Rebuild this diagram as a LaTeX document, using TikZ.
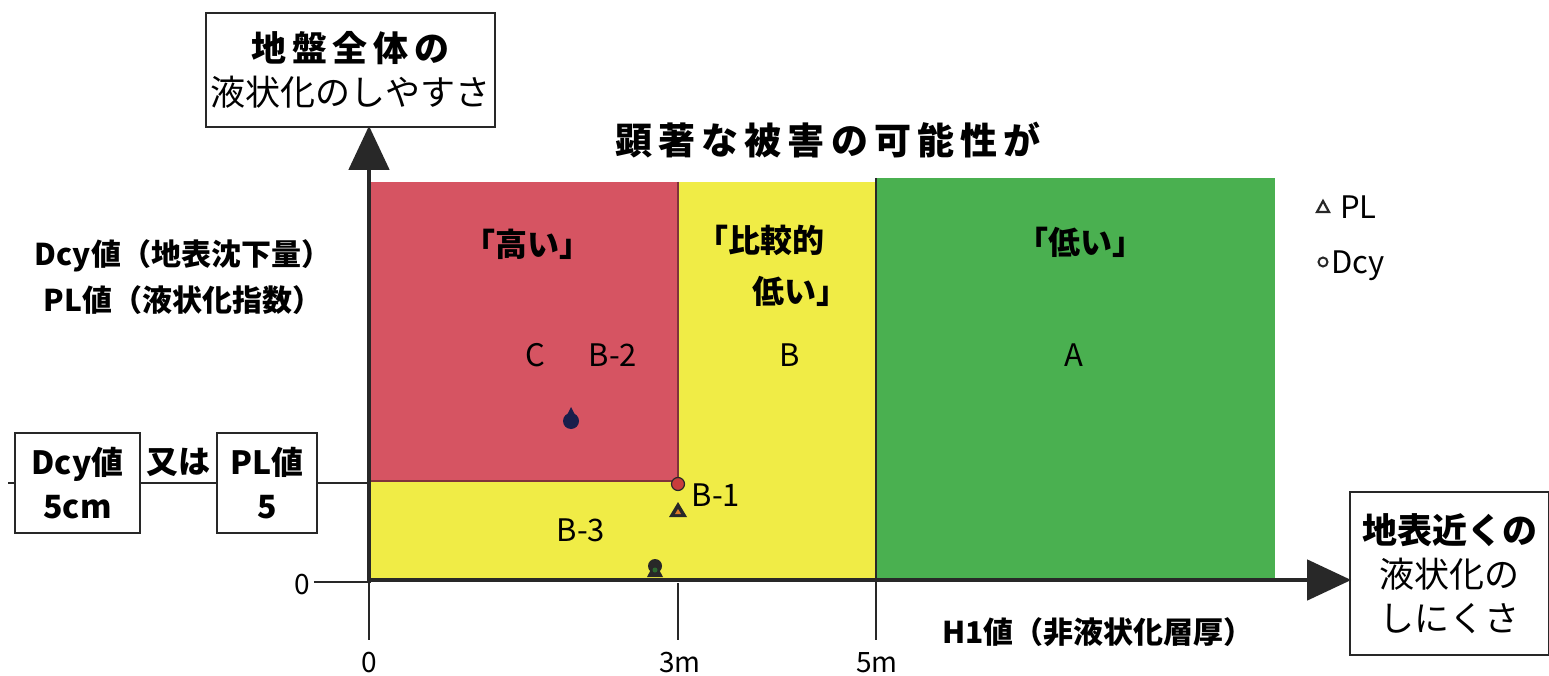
\documentclass[tikz,border=0pt]{standalone}
\usepackage{fontspec}
\setmainfont{Noto Sans CJK JP}
\usetikzlibrary{arrows.meta}
\definecolor{zred}{RGB}{214,84,98}
\definecolor{zyellow}{RGB}{240,236,70}
\definecolor{zgreen}{RGB}{74,176,80}
\definecolor{zline}{RGB}{40,40,40}
\definecolor{znavy}{RGB}{25,30,75}
\definecolor{zdot}{RGB}{200,60,60}
\definecolor{zorange}{RGB}{220,120,40}
\tikzset{
  x=1pt,y=-1pt,
  lbox/.style={draw=zline,line width=1.6pt,fill=white,inner sep=0pt,align=center},
  axisline/.style={line width=4.5pt,draw=zline,-{Triangle[length=44pt,width=40pt]},shorten >=-2pt},
  thinline/.style={line width=1.3pt,draw=zline},
  big/.style={font=\fontsize{35}{44}\selectfont},
  mid/.style={font=\fontsize{32}{44}\selectfont\bfseries},
  small/.style={font=\fontsize{28}{32}\selectfont},
  reg/.style={font=\fontsize{32}{48}\selectfont\bfseries,inner sep=0pt},
  lab/.style={font=\fontsize{31}{36}\selectfont,inner sep=0pt},
}
\begin{document}
\begin{tikzpicture}
\useasboundingbox (0,0) rectangle (1549,676);
% regions
\fill[zyellow] (369,182) rectangle (876,580);
\fill[zred] (369,182) rectangle (678,481);
\fill[zgreen] (876,178) rectangle (1275,578);
\draw[thinline,draw=zred!60!black] (678,182) -- (678,481) -- (369,481);
\draw[thinline] (678,583) -- (678,640);
\draw[thinline] (876,178) -- (876,640);
\draw[thinline] (369,583) -- (369,640);
\coordinate (O) at (369,580);
% axis boxes
\node[lbox,minimum width=289pt,minimum height=114pt,big] (ybox) at (350.5,70) {{\bfseries 地\,盤\,全\,体\,の}\\液状化のしやすさ};
\node[lbox,minimum width=199pt,minimum height=163pt,big] (xbox) at (1449.5,573.5) {\bfseries 地表近くの\\液状化の\\しにくさ};
\draw[axisline] (369,583) -- (O |- ybox.south);
\draw[axisline] (367,580) -- (xbox.west |- O);
% threshold boxes
\node[lbox,minimum width=125pt,minimum height=100pt,mid] (b1) at (77.5,483) {Dcy値\\5cm};
\node[lbox,minimum width=100pt,minimum height=100pt,mid] (b2) at (267,483) {PL値\\5};
\coordinate (stub) at (8,483);
\draw[thinline] (stub) -- (b1.west);
\draw[thinline] (b1.east) -- (b2.west);
\draw[thinline] (b2.east) -- (O |- b2.east);
\node[mid,inner sep=0pt] (or) at (178,462) {又は};
% zero tick
\node[small,inner sep=0pt] (z0) at (302,585) {0};
\draw[thinline] (z0.east |- O) ++(4,2) -- (369,582);
% x tick labels
\node[small,inner sep=0pt] (x0) at (369,663) {0};
\node[small,inner sep=0pt] (x3) at (680,663) {3m};
\node[small,inner sep=0pt] (x5) at (877,663) {5m};
% titles
\node[font=\fontsize{37}{40}\selectfont\bfseries,inner sep=0pt] (title) at (828,140) {顕\,著\,な\,被\,害\,の\,可\,能\,性\,が};
\node[font=\fontsize{30}{46}\selectfont\bfseries,inner sep=0pt,align=center] (ylab) at (183,277) {Dcy値（地表沈下量）\\PL値（液状化指数）};
\node[font=\fontsize{30}{36}\selectfont\bfseries,inner sep=0pt] (xlab) at (1098,632) {H1値（非液状化層厚）};
% region labels
\node[reg] (high) at (527,244) {「高い」};
\node[reg,align=left] (mid1) at (760,240) {「比較的};
\node[reg] (mid2) at (800,291) {低い」};
\node[reg] (low) at (1080,242) {「低い」};
\node[lab] (lC) at (535,355) {C};
\node[lab] (lB2) at (613,355) {B-2};
\node[lab] (lB) at (790,355) {B};
\node[lab] (lA) at (1074,355) {A};
\node[lab] (lB3) at (581,530) {B-3};
\node[lab] (lB1) at (716,495) {B-1};
% markers
\fill[znavy] (571,421) circle (8);
\fill[znavy] (566,417) -- (571,407) -- (576,417) -- cycle;
\draw[zline,fill=zdot,line width=1.2pt] (678,484) circle (6.5);
\fill[zline] (669,517) -- (678,502) -- (687,517) -- cycle;
\fill[zorange] (675,514) -- (678,509) -- (681,514) -- cycle;
\fill[zline] (655,566) circle (7);
\fill[zline] (647,577) -- (655,562) -- (663,577) -- cycle;
\fill[zgreen!60!black] (655,570) circle (2.5);
% legend
\draw[line width=2.2pt,zline] (1317,212) -- (1323,201) -- (1329,212) -- cycle;
\node[lab,anchor=west] (lPL) at (1340,207) {PL};
\draw[line width=2pt,zline] (1323,262) circle (4.5);
\node[lab,anchor=west] (lDcy) at (1331,266) {Dcy};
\end{tikzpicture}
\end{document}
